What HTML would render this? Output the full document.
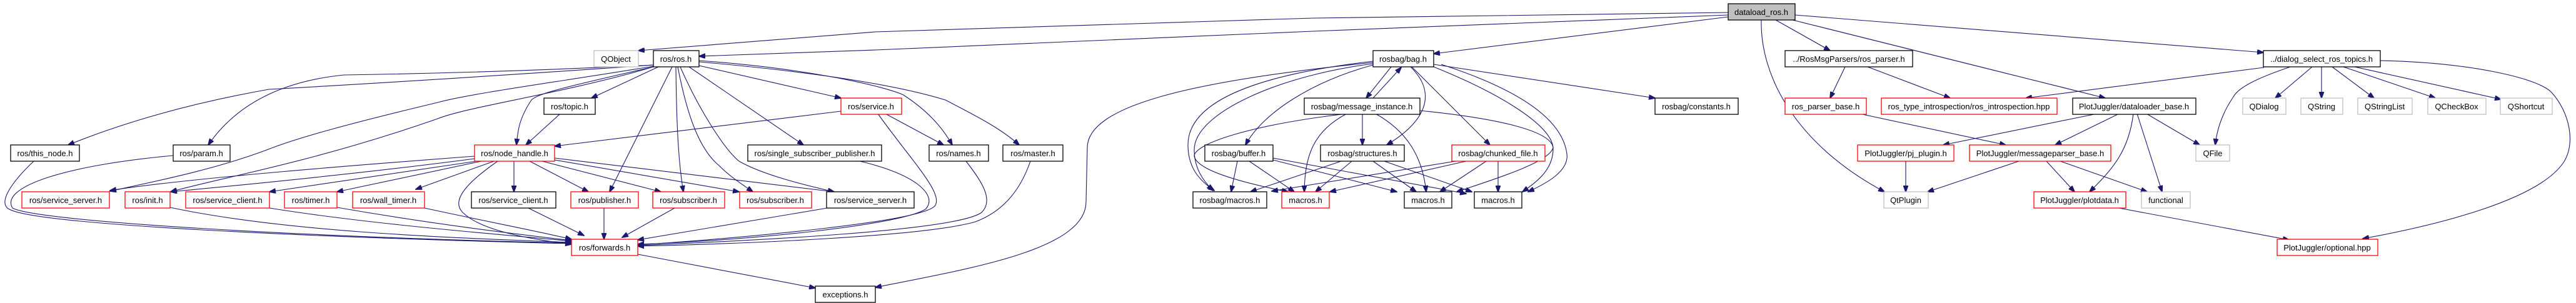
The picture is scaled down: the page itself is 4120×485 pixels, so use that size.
<!DOCTYPE html>
<html><head><meta charset="utf-8"><style>
html,body{margin:0;padding:0;background:#fff;}
svg{display:block;}
text{font-family:"Liberation Sans",Arial,sans-serif;font-size:13px;fill:#000;text-anchor:middle;}
.k{fill:#fff;stroke:#000;stroke-width:1.3;}
.r{fill:#fff;stroke:#ff0000;stroke-width:1.3;}
.g{fill:#fff;stroke:#bfbfbf;stroke-width:1.3;}
.e{fill:none;stroke:#191970;stroke-width:1.1;marker-end:url(#a);}
</style></head><body>
<svg width="4120" height="485" viewBox="0 0 4120 485" xmlns="http://www.w3.org/2000/svg">
<defs><marker id="a" markerWidth="11" markerHeight="8" refX="10" refY="4" orient="auto" markerUnits="userSpaceOnUse"><path d="M0,0 L11,4 L0,8 Z" fill="#191970" stroke="#191970"/></marker></defs>

<!-- edges from dataload_ros.h -->
<path class="e" d="M2764,20 L2100,29 L1400,51 L1021,81"/>
<path class="e" d="M2764,24 L2100,50 L1400,80 L1118,90"/>
<path class="e" d="M2764,27 L2293,86"/>
<path class="e" d="M2840,32 L2927,81"/>
<path class="e" d="M2867,32 L3367,157"/>
<path class="e" d="M2871,24 L3620,84"/>
<path class="e" d="M2817,32 C2815,120 2870,230 3014,307"/>

<!-- ros/ros.h -->
<path class="e" d="M1045,104 Q700,128 430,143 Q250,175 109,232"/>
<path class="e" d="M1045,104 Q800,116 550,120 Q400,135 333,232"/>
<path class="e" d="M1045,106 C900,130 750,150 700,164 C550,200 480,220 437,236 C350,270 250,290 176,306"/>
<path class="e" d="M1045,107 C900,150 750,170 700,190 C500,260 350,285 273,307"/>
<path class="e" d="M1045,107 C900,140 860,150 850,160 C830,190 828,210 826,232"/>
<path class="e" d="M1053,107 L946,157"/>
<path class="e" d="M1075,107 L975,307"/>
<path class="e" d="M1081,107 C1082,200 1085,260 1093,307"/>
<path class="e" d="M1084,107 C1100,190 1120,240 1150,265 C1170,285 1190,297 1204,307"/>
<path class="e" d="M1088,107 C1120,180 1160,240 1182,258 C1220,280 1290,297 1334,307"/>
<path class="e" d="M1102,107 L1285,232"/>
<path class="e" d="M1118,105 L1345,157"/>
<path class="e" d="M1118,97 C1300,110 1420,140 1445,152 C1480,175 1505,200 1523,232"/>
<path class="e" d="M1118,99 C1300,115 1430,135 1512,160 C1560,185 1600,205 1630,232"/>

<path class="e" d="M896,182 L841,232"/>
<path class="e" d="M1345,178 L887,234"/>
<path class="e" d="M1416,182 L1509,232"/>
<path class="e" d="M1404,182 C1460,260 1510,310 1495,330 C1470,355 1200,380 1020,392"/>
<path class="e" d="M1545,258 C1570,290 1590,320 1570,340 C1530,370 1200,385 1020,393"/>
<path class="e" d="M1648,258 C1630,310 1600,340 1560,355 C1480,378 1200,390 1020,394"/>
<path class="e" d="M1375,258 C1470,280 1500,315 1480,335 C1440,360 1200,385 1020,391"/>
<path class="e" d="M1323,333 L1020,384"/>
<path class="e" d="M845,333 L934,377"/>
<path class="e" d="M966,333 L966,383"/>
<path class="e" d="M1079,333 L995,380"/>
<path class="e" d="M1020,407 L1304,461"/>

<!-- node_handle -->
<path class="e" d="M759,250 C600,262 300,285 176,305"/>
<path class="e" d="M759,254 C600,275 400,295 273,307"/>
<path class="e" d="M762,258 L431,307"/>
<path class="e" d="M770,258 L539,307"/>
<path class="e" d="M790,258 L665,303"/>
<path class="e" d="M822,258 L822,307"/>
<path class="e" d="M847,258 L941,307"/>
<path class="e" d="M867,258 L1057,307"/>
<path class="e" d="M887,256 L1182,307"/>
<path class="e" d="M887,253 L1334,307"/>
<path class="e" d="M796,258 C750,290 720,320 740,340 C770,370 850,383 914,391"/>

<!-- left nodes to forwards -->
<path class="e" d="M54,258 C20,290 -5,325 15,335 C60,360 500,380 914,390"/>
<path class="e" d="M277,249 C100,265 0,300 20,333 C60,355 500,380 914,389"/>
<path class="e" d="M272,332 C450,370 700,380 914,388"/>
<path class="e" d="M431,333 C600,360 800,375 914,386"/>
<path class="e" d="M539,332 C700,360 830,375 914,385"/>
<path class="e" d="M679,333 C780,355 860,370 914,383"/>

<!-- rosbag -->
<path class="e" d="M2196,100 C1900,130 1740,170 1739,236 L1737,323 C1737,400 1550,430 1400,460"/>
<path class="e" d="M2196,98 C2050,115 1900,150 1900,232 C1900,270 1920,290 1942,305"/>
<path class="e" d="M2196,102 C2050,120 1910,180 1910,240 C1910,270 1925,290 1940,305"/>
<path class="e" d="M2196,104 C2100,130 2020,180 1992,232"/>
<path class="e" d="M2225,107 L2185,157"/>
<path class="e" d="M2196,157 L2241,108"/>
<path class="e" d="M2256,107 C2290,140 2295,185 2218,232"/>
<path class="e" d="M2258,107 L2383,232"/>
<path class="e" d="M2293,103 L2647,157"/>
<path class="e" d="M2293,107 C2400,150 2480,200 2484,236 C2485,270 2460,290 2435,307"/>
<path class="e" d="M2305,103 C2450,150 2500,200 2506,246 C2510,275 2470,295 2444,307"/>

<path class="e" d="M2154,182 C2000,200 1910,230 1910,250 C1915,275 2000,295 2060,307"/>
<path class="e" d="M2179,182 L2179,232"/>
<path class="e" d="M2200,182 C2250,210 2275,250 2281,307"/>
<path class="e" d="M2271,177 C2400,190 2480,210 2484,236 C2480,260 2380,290 2330,307"/>
<path class="e" d="M2154,182 C2100,210 2087,250 2086,307"/>

<path class="e" d="M1979,258 L1969,307"/>
<path class="e" d="M1998,258 L2070,307"/>
<path class="e" d="M2036,256 L2234,307"/>
<path class="e" d="M2036,253 L2345,310"/>

<path class="e" d="M2162,258 L2104,307"/>
<path class="e" d="M2145,258 L2000,307"/>
<path class="e" d="M2196,258 L2265,307"/>
<path class="e" d="M2214,258 L2354,307"/>

<path class="e" d="M2345,258 L2127,307"/>
<path class="e" d="M2328,258 L2034,306"/>
<path class="e" d="M2377,258 L2303,307"/>
<path class="e" d="M2396,258 L2396,307"/>

<!-- plotjuggler -->
<path class="e" d="M2951,107 L2927,157"/>
<path class="e" d="M2987,107 L3119,157"/>
<path class="e" d="M2974,182 L3208,232"/>
<path class="e" d="M3354,182 L3108,232"/>
<path class="e" d="M3389,182 L3287,232"/>
<path class="e" d="M3412,182 C3405,240 3380,270 3342,307"/>
<path class="e" d="M3418,182 L3458,307"/>
<path class="e" d="M3433,182 L3518,232"/>
<path class="e" d="M3048,258 L3048,307"/>
<path class="e" d="M3229,258 L3083,307"/>
<path class="e" d="M3273,258 L3318,307"/>
<path class="e" d="M3295,258 L3434,307"/>
<path class="e" d="M3389,333 L3661,384"/>

<path class="e" d="M3621,108 L3240,157"/>
<path class="e" d="M3663,107 C3610,125 3580,140 3572,155 C3555,180 3546,205 3543,232"/>
<path class="e" d="M3698,107 L3639,157"/>
<path class="e" d="M3713,107 L3713,157"/>
<path class="e" d="M3730,107 L3797,157"/>
<path class="e" d="M3748,107 L3895,157"/>
<path class="e" d="M3766,107 L4000,159"/>
<path class="e" d="M3807,97 C3950,100 4060,125 4081,148 C4110,180 4120,230 4100,260 C4060,320 3900,360 3779,382"/>

<!-- nodes -->
<rect class="k" x="17" y="232" width="110" height="26"/><text x="72" y="250">ros/this_node.h</text>
<rect class="k" x="277" y="232" width="91" height="26"/><text x="322" y="250">ros/param.h</text>
<rect class="r" x="35" y="307" width="140" height="26"/><text x="105" y="325">ros/service_server.h</text>
<rect class="r" x="200" y="307" width="72" height="26"/><text x="236" y="325">ros/init.h</text>
<rect class="r" x="297" y="307" width="134" height="26"/><text x="364" y="325">ros/service_client.h</text>
<rect class="r" x="455" y="307" width="84" height="26"/><text x="497" y="325">ros/timer.h</text>
<rect class="r" x="564" y="307" width="115" height="26"/><text x="621" y="325">ros/wall_timer.h</text>
<rect class="g" x="950" y="81" width="71" height="26"/><text x="985" y="99">QObject</text>
<rect class="k" x="1045" y="81" width="73" height="26"/><text x="1081" y="99">ros/ros.h</text>
<rect class="k" x="870" y="157" width="82" height="26"/><text x="911" y="175">ros/topic.h</text>
<rect class="r" x="1345" y="157" width="97" height="26"/><text x="1393" y="175">ros/service.h</text>
<rect class="r" x="759" y="232" width="128" height="26"/><text x="823" y="250">ros/node_handle.h</text>
<rect class="k" x="1196" y="232" width="214" height="26"/><text x="1303" y="250">ros/single_subscriber_publisher.h</text>
<rect class="k" x="754" y="307" width="135" height="26"/><text x="821" y="325">ros/service_client.h</text>
<rect class="r" x="913" y="307" width="108" height="26"/><text x="967" y="325">ros/publisher.h</text>
<rect class="r" x="1044" y="307" width="115" height="26"/><text x="1101" y="325">ros/subscriber.h</text>
<rect class="r" x="1183" y="307" width="115" height="26"/><text x="1240" y="325">ros/subscriber.h</text>
<rect class="k" x="1322" y="307" width="140" height="26"/><text x="1392" y="325">ros/service_server.h</text>
<rect class="r" x="914" y="383" width="106" height="26"/><text x="967" y="401">ros/forwards.h</text>
<rect class="k" x="1304" y="458" width="96" height="26"/><text x="1352" y="476">exceptions.h</text>
<rect class="k" x="1486" y="232" width="95" height="26"/><text x="1533" y="250">ros/names.h</text>
<rect class="k" x="1604" y="232" width="96" height="26"/><text x="1652" y="250">ros/master.h</text>
<rect class="k" x="1927" y="232" width="109" height="26"/><text x="1981" y="250">rosbag/buffer.h</text>
<rect class="k" x="1908" y="307" width="118" height="26"/><text x="1967" y="325">rosbag/macros.h</text>
<rect class="r" x="2050" y="307" width="76" height="26"/><text x="2088" y="325">macros.h</text>
<rect class="k" x="2086" y="157" width="185" height="26"/><text x="2178" y="175">rosbag/message_instance.h</text>
<rect x="2764" y="6" width="107" height="26" fill="#bfbfbf" stroke="#000" stroke-width="1.3"/><text x="2817" y="24">dataload_ros.h</text>
<rect class="k" x="2196" y="81" width="97" height="26"/><text x="2244" y="99">rosbag/bag.h</text>
<rect class="k" x="2647" y="157" width="133" height="26"/><text x="2713" y="175">rosbag/constants.h</text>
<rect class="k" x="2112" y="232" width="134" height="26"/><text x="2179" y="250">rosbag/structures.h</text>
<rect class="r" x="2322" y="232" width="149" height="26"/><text x="2396" y="250">rosbag/chunked_file.h</text>
<rect class="k" x="2246" y="307" width="76" height="26"/><text x="2284" y="325">macros.h</text>
<rect class="k" x="2358" y="307" width="76" height="26"/><text x="2396" y="325">macros.h</text>
<rect class="k" x="2855" y="81" width="204" height="26"/><text x="2957" y="99">../RosMsgParsers/ros_parser.h</text>
<rect class="r" x="2855" y="157" width="130" height="26"/><text x="2920" y="175">ros_parser_base.h</text>
<rect class="r" x="3009" y="157" width="281" height="26"/><text x="3149" y="175">ros_type_introspection/ros_introspection.hpp</text>
<rect class="k" x="3315" y="157" width="197" height="26"/><text x="3413" y="175">PlotJuggler/dataloader_base.h</text>
<rect class="r" x="2971" y="232" width="154" height="26"/><text x="3048" y="250">PlotJuggler/pj_plugin.h</text>
<rect class="r" x="3150" y="232" width="226" height="26"/><text x="3263" y="250">PlotJuggler/messageparser_base.h</text>
<rect class="g" x="3013" y="307" width="71" height="26"/><text x="3048" y="325">QtPlugin</text>
<rect class="r" x="3253" y="307" width="147" height="26"/><text x="3326" y="325">PlotJuggler/plotdata.h</text>
<rect class="g" x="3425" y="307" width="78" height="26"/><text x="3464" y="325">functional</text>
<rect class="k" x="3620" y="81" width="187" height="26"/><text x="3713" y="99">../dialog_select_ros_topics.h</text>
<rect class="g" x="3587" y="157" width="69" height="26"/><text x="3621" y="175">QDialog</text>
<rect class="g" x="3680" y="157" width="67" height="26"/><text x="3713" y="175">QString</text>
<rect class="g" x="3771" y="157" width="87" height="26"/><text x="3814" y="175">QStringList</text>
<rect class="g" x="3883" y="157" width="93" height="26"/><text x="3929" y="175">QCheckBox</text>
<rect class="g" x="3999" y="157" width="83" height="26"/><text x="4040" y="175">QShortcut</text>
<rect class="g" x="3512" y="232" width="54" height="26"/><text x="3539" y="250">QFile</text>
<rect class="r" x="3642" y="383" width="161" height="26"/><text x="3722" y="401">PlotJuggler/optional.hpp</text>
</svg>
</body></html>
